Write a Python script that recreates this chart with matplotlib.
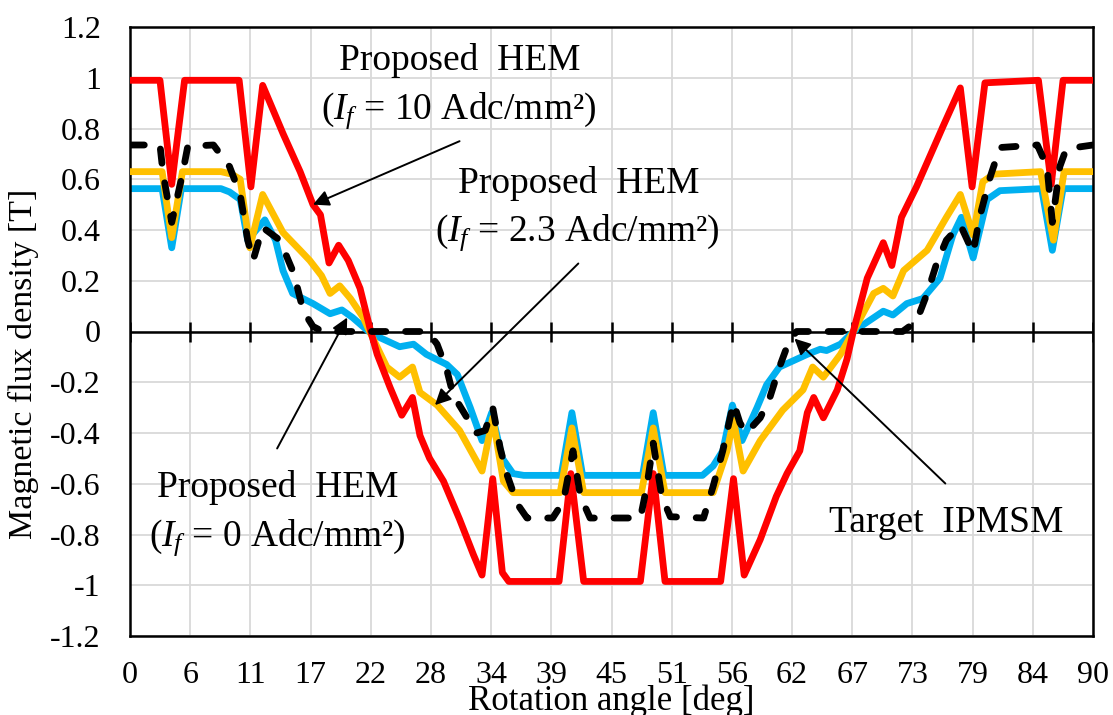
import numpy as np
import matplotlib
matplotlib.use("Agg")
import matplotlib.pyplot as plt

# ---- data: magnetic flux density [T] versus rotation angle [deg] ----
angle_ticks = [0, 5.625, 11.25, 16.875, 22.5, 28.125, 33.75, 39.375, 45,
               50.625, 56.25, 61.875, 67.5, 73.125, 78.75, 84.375, 90]
angle_labels = ["0", "6", "11", "17", "22", "28", "34", "39", "45",
                "51", "56", "62", "67", "73", "79", "84", "90"]
b_ticks = [1.2, 1.0, 0.8, 0.6, 0.4, 0.2, 0.0, -0.2, -0.4, -0.6, -0.8, -1.0, -1.2]
b_labels = ["1.2", "1", "0.8", "0.6", "0.4", "0.2", "0",
            "-0.2", "-0.4", "-0.6", "-0.8", "-1", "-1.2"]

# Proposed HEM, If = 10 Adc/mm2
hem10_deg = [0, 2.8, 3.9, 5.1, 10.2, 11.3, 12.4, 14.3, 15.9, 17.1, 17.8, 18.6,
             19.5, 20.4, 21.5, 22.5, 23.1, 24.3, 25.4, 26.4, 27.1, 28.0, 29.3,
             30.8, 32.1, 32.9, 33.9, 34.8, 35.4, 40.1, 41.2, 42.4, 47.7, 48.9,
             50.0, 55.2, 56.4, 57.4, 58.9, 60.4, 61.4, 62.6, 63.3, 63.9, 64.8,
             66.1, 67.0, 67.6, 68.9, 70.4, 71.2, 72.1, 73.5, 76.0, 77.6, 78.7,
             79.9, 84.9, 86.1, 87.2, 90]
hem10_b = [0.99, 0.99, 0.58, 0.99, 0.99, 0.57, 0.97, 0.78, 0.63, 0.50, 0.46, 0.27,
           0.34, 0.28, 0.17, 0.0, -0.09, -0.22, -0.33, -0.26, -0.41, -0.50, -0.59,
           -0.74, -0.88, -0.96, -0.58, -0.95, -0.985, -0.985, -0.56, -0.985, -0.985, -0.56,
           -0.985, -0.985, -0.58, -0.96, -0.82, -0.65, -0.56, -0.47, -0.32, -0.26, -0.34,
           -0.23, -0.11, 0.0, 0.21, 0.35, 0.26, 0.45, 0.57, 0.81, 0.96, 0.57,
           0.98, 0.99, 0.58, 0.99, 0.99]

# Proposed HEM, If = 2.3 Adc/mm2
hem23_deg = [0, 3.0, 3.9, 4.9, 8.5, 9.5, 10.3, 11.2, 12.4, 14.3, 15.9, 16.8, 17.9,
             18.7, 19.6, 20.6, 21.8, 22.4, 24.0, 25.2, 26.4, 27.1, 28.7, 30.8,
             32.9, 33.9, 34.9, 35.8, 40.2, 41.3, 42.4, 47.8, 48.9, 50.0, 54.5,
             55.8, 56.4, 57.3, 58.9, 61.0, 62.9, 63.8, 64.8, 66.4, 67.6, 69.5,
             70.4, 71.3, 72.3, 74.5, 76.3, 77.6, 78.8, 79.7, 80.7, 85.1, 86.3,
             87.3, 90]
hem23_b = [0.63, 0.63, 0.37, 0.63, 0.63, 0.62, 0.60, 0.33, 0.54, 0.39, 0.32, 0.28, 0.22,
           0.15, 0.18, 0.13, 0.055, 0.0, -0.14, -0.18, -0.14, -0.24, -0.29, -0.39,
           -0.55, -0.34, -0.59, -0.635, -0.635, -0.38, -0.635, -0.635, -0.38, -0.635, -0.635,
           -0.47, -0.35, -0.55, -0.43, -0.31, -0.23, -0.14, -0.18, -0.09, 0.0, 0.15,
           0.17, 0.14, 0.24, 0.32, 0.45, 0.54, 0.38, 0.59, 0.62, 0.63, 0.36,
           0.63, 0.63]

# Proposed HEM, If = 0 Adc/mm2
hem0_deg = [0, 3.0, 3.9, 4.8, 8.5, 9.3, 10.3, 11.0, 12.6, 13.6, 14.3, 15.2, 17.1,
            18.7, 19.8, 20.8, 22.3, 23.4, 25.2, 26.5, 27.7, 29.6, 30.6, 31.8,
            32.9, 33.8, 34.8, 35.8, 36.8, 40.3, 41.3, 42.3, 47.9, 48.9, 49.9,
            53.5, 54.5, 55.4, 56.3, 57.2, 58.6, 59.5, 60.7, 63.3, 64.5, 65.1,
            66.4, 67.6, 70.4, 71.3, 72.6, 74.1, 75.7, 76.9, 77.7, 78.8, 80.1,
            81.3, 85.2, 86.2, 87.2, 90]
hem0_b = [0.563, 0.563, 0.33, 0.563, 0.563, 0.55, 0.52, 0.36, 0.44, 0.36, 0.24, 0.15, 0.11,
          0.07, 0.085, 0.055, 0.0, -0.025, -0.06, -0.05, -0.09, -0.13, -0.17, -0.30,
          -0.43, -0.32, -0.50, -0.56, -0.567, -0.567, -0.32, -0.567, -0.567, -0.32, -0.567,
          -0.567, -0.53, -0.47, -0.29, -0.43, -0.30, -0.21, -0.14, -0.09, -0.07, -0.075,
          -0.05, 0.0, 0.08, 0.065, 0.11, 0.13, 0.21, 0.38, 0.45, 0.29, 0.52,
          0.555, 0.563, 0.32, 0.563, 0.563]

# Target IPMSM
ipm_deg = [0, 2.8, 3.1, 3.9, 4.9, 5.4, 7.8, 9.3, 10.3, 11.0, 11.5, 12.4, 14.0, 15.3,
           16.2, 17.1, 18.0, 27.8, 28.7, 29.6, 30.2, 31.5, 32.4, 33.2, 33.9, 34.6,
           35.2, 36.2, 37.1, 39.5, 40.5, 41.4, 42.1, 43.0, 47.7, 48.3, 48.9, 49.7,
           50.5, 53.6, 54.5, 55.4, 56.4, 57.0, 57.6, 58.9, 59.8, 60.7, 61.4, 61.9,
           62.3, 72.2, 73.5, 74.5, 75.4, 76.3, 77.6, 78.8, 79.4, 80.4, 81.3, 84.8,
           85.7, 86.2, 86.9, 87.5, 90]
ipm_b = [0.735, 0.735, 0.62, 0.43, 0.62, 0.73, 0.735, 0.65, 0.54, 0.36, 0.28, 0.41, 0.36, 0.23,
         0.08, 0.02, 0.0, 0.0, -0.05, -0.15, -0.25, -0.34, -0.40, -0.39, -0.30, -0.46,
         -0.56, -0.68, -0.735, -0.735, -0.67, -0.47, -0.65, -0.735, -0.735, -0.61, -0.44, -0.65,
         -0.73, -0.735, -0.61, -0.47, -0.28, -0.36, -0.40, -0.34, -0.26, -0.14, -0.06, -0.02,
         0.0, 0.0, 0.04, 0.15, 0.27, 0.36, 0.42, 0.31, 0.45, 0.61, 0.725, 0.735,
         0.65, 0.43, 0.65, 0.72, 0.735]

# ---- styling ----
plt.rcParams["font.family"] = ["Liberation Serif", "DejaVu Serif"]
plt.rcParams["mathtext.fontset"] = "custom"
plt.rcParams["mathtext.rm"] = "Liberation Serif"
plt.rcParams["mathtext.it"] = "Liberation Serif:italic"

W, H = 1113, 715
fig = plt.figure(figsize=(W / 100, H / 100), dpi=100)
ax = fig.add_axes([130 / W, 1 - 636 / H, 963 / W, 609 / H])

ax.set_xlim(0, 90)
ax.set_ylim(-1.2, 1.2)
ax.set_xticks(angle_ticks)
ax.set_xticklabels(angle_labels)
ax.set_yticks(b_ticks)
ax.set_yticklabels(b_labels)
ax.tick_params(axis="x", length=0, pad=18, labelsize=23)
ax.tick_params(axis="y", length=0, pad=21, labelsize=23)
ax.grid(True, color="#d9d9d9", linewidth=1.3, zorder=0)
ax.set_axisbelow(True)
for sp in ax.spines.values():
    sp.set_linewidth(1.8)
    sp.set_color("black")

# horizontal axis line at B = 0 with crossing tick marks
ax.axhline(0, color="black", linewidth=1.8, zorder=1.5)
ax.plot(angle_ticks, np.zeros(len(angle_ticks)), ls="none", marker="|",
        markersize=15, markeredgewidth=1.8, color="black", zorder=1.5)

lw = 4.9
ax.plot(hem0_deg, hem0_b, color="#00b0f0", lw=lw, solid_joinstyle="round",
        solid_capstyle="round", zorder=2)
ax.plot(hem23_deg, hem23_b, color="#ffc000", lw=lw, solid_joinstyle="round",
        solid_capstyle="round", zorder=3)
ax.plot(hem10_deg, hem10_b, color="#ff0000", lw=lw, solid_joinstyle="round",
        solid_capstyle="round", zorder=4)
ax.plot(ipm_deg, ipm_b, color="black", lw=lw, dashes=(2.1, 2.9),
        dash_capstyle="round", dash_joinstyle="round", zorder=5)

# ---- callouts ----
arrow_kw = dict(arrowstyle="-|>", color="black", lw=1.4, mutation_scale=24,
                shrinkA=0, shrinkB=0)
fs = 27
ax.text(30.8, 1.029, "Proposed  HEM", ha="center", va="baseline", fontsize=fs, zorder=6)
ax.text(30.7, 0.839, "($I_f$ = 10 Adc/mm²)", ha="center", va="baseline", fontsize=fs, zorder=6)
ax.annotate("", xy=(17.1, 0.50), xytext=(30.8, 0.75), arrowprops=arrow_kw, zorder=6)

ax.text(41.9, 0.544, "Proposed  HEM", ha="center", va="baseline", fontsize=fs, zorder=6)
ax.text(41.8, 0.359, "($I_f$ = 2.3 Adc/mm²)", ha="center", va="baseline", fontsize=fs, zorder=6)
ax.annotate("", xy=(28.5, -0.29), xytext=(41.9, 0.268), arrowprops=arrow_kw, zorder=6)

ax.text(13.8, -0.654, "Proposed  HEM", ha="center", va="baseline", fontsize=fs, zorder=6)
ax.text(13.8, -0.843, "($I_f$ = 0 Adc/mm²)", ha="center", va="baseline", fontsize=fs, zorder=6)
ax.annotate("", xy=(20.3, 0.055), xytext=(13.75, -0.461), arrowprops=arrow_kw, zorder=6)

ax.text(76.3, -0.792, "Target  IPMSM", ha="center", va="baseline", fontsize=fs, zorder=6)
ax.annotate("", xy=(62.1, -0.028), xytext=(76.2, -0.599), arrowprops=arrow_kw, zorder=6)

# ---- axis titles ----
fig.text(611 / W, 5 / H, "Rotation angle [deg]", ha="center", va="baseline", fontsize=25)
fig.text(23 / W, 1 - 364 / H, "Magnetic flux density [T]", ha="center", va="center",
         rotation=90, fontsize=24.5)

fig.savefig("out.png", dpi=100)
